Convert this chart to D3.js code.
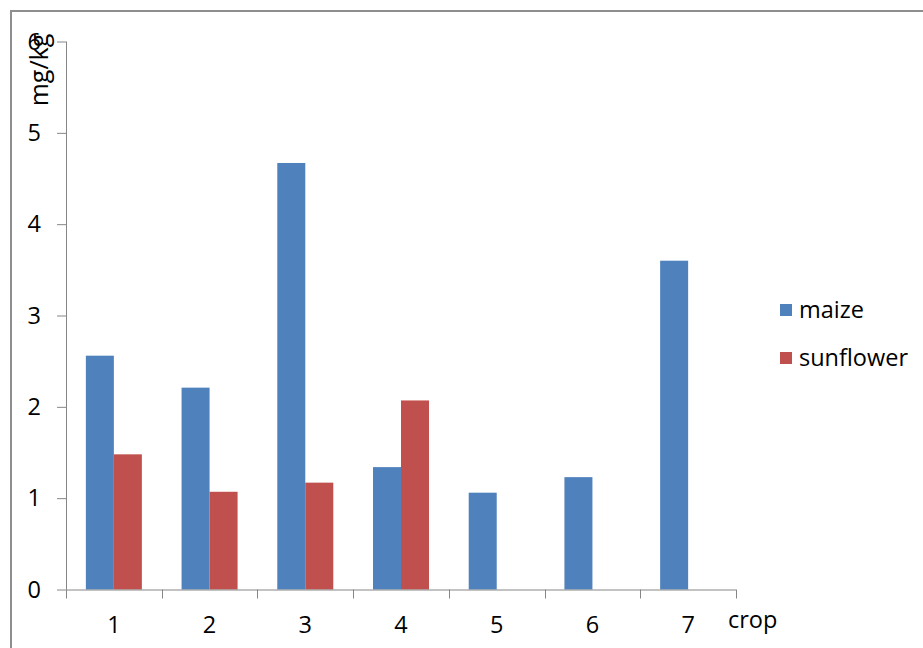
<!DOCTYPE html>
<html>
<head>
<meta charset="utf-8">
<script src="https://cdn.jsdelivr.net/npm/d3@7"></script>
<style>
  html, body { margin: 0; padding: 0; background: #fff; }
  svg { display: block; }
  text { font-family: "Open Sans", sans-serif; fill: #000; }
</style>
</head>
<body>
<svg id="chart" width="923" height="648"></svg>
<script>
const categories = ["1", "2", "3", "4", "5", "6", "7"];
const seriesNames = ["maize", "sunflower"];
const maize = [2.56, 2.21, 4.67, 1.34, 1.06, 1.23, 3.60];
const sunflower = [1.48, 1.07, 1.17, 2.07, null, null, null];
const yTicks = [0, 1, 2, 3, 4, 5, 6];
const colors = ["#4F81BD", "#C0504D"];

const svg = d3.select("#chart");
const W = 923, H = 648;
const pLeft = 66, pRight = 736, pTop = 41.5, pBottom = 589.5;
const fs = 23.5;

// frame
svg.append("rect").attr("x", 0).attr("y", 0).attr("width", W).attr("height", H).attr("fill", "#fff");
svg.append("path")
  .attr("d", `M11,${H + 5} L11,11 L${W + 5},11`)
  .attr("fill", "none").attr("stroke", "#8e8e8e").attr("stroke-width", 2);

const x = d3.scaleBand().domain(categories).range([pLeft, pRight]).paddingInner(0).paddingOuter(0);
const x1 = d3.scaleBand().domain(seriesNames).range([0, x.bandwidth()]).paddingInner(0).paddingOuter(0.709);
const y = d3.scaleLinear().domain([0, 6]).range([pBottom, pTop]);

const data = seriesNames.map((s, i) => ({ name: s, values: i === 0 ? maize : sunflower }));

// bars
const g = svg.append("g");
data.forEach((s, si) => {
  g.selectAll(null)
    .data(categories.map((c, ci) => ({ c, v: s.values[ci] })).filter(d => d.v != null))
    .enter().append("rect")
    .attr("x", d => x(d.c) + x1(s.name))
    .attr("width", x1.bandwidth())
    .attr("y", d => y(d.v))
    .attr("height", d => y(0) - y(d.v))
    .attr("fill", colors[si]);
});

// y axis
const yAxis = d3.axisLeft(y).tickValues(yTicks).tickFormat(d3.format("d")).tickSize(9).tickPadding(16);
const ya = svg.append("g").attr("transform", `translate(${pLeft},0)`).call(yAxis);
ya.select(".domain").attr("stroke", "#868686").attr("d", `M0.5,${pTop}V${pBottom}`);
ya.selectAll(".tick line").attr("stroke", "#868686");
ya.selectAll(".tick text").attr("font-size", fs).attr("font-family", "Open Sans, sans-serif").attr("fill", "#000");

// x axis: ticks at band boundaries
const xa = svg.append("g").attr("transform", `translate(0,${pBottom})`);
xa.append("line").attr("x1", pLeft).attr("x2", pRight).attr("y1", 0.5).attr("y2", 0.5).attr("stroke", "#868686");
const bounds = categories.map(c => x(c)).concat([x.range()[1]]);
xa.selectAll(".bt").data(bounds).enter().append("line")
  .attr("x1", d => Math.round(d) + 0.5).attr("x2", d => Math.round(d) + 0.5)
  .attr("y1", 0).attr("y2", 9).attr("stroke", "#868686");
xa.selectAll(".lbl").data(categories).enter().append("text")
  .attr("x", d => x(d) + x.bandwidth() / 2)
  .attr("y", 43)
  .attr("text-anchor", "middle")
  .attr("font-size", fs)
  .text(d => d);

// axis titles
svg.append("text").attr("x", 728).attr("y", 628).attr("font-size", fs).text("crop");
svg.append("text")
  .attr("transform", "translate(48,70) rotate(-90)")
  .attr("text-anchor", "middle")
  .attr("font-size", 25)
  .text("mg/kg");

// legend
const leg = svg.append("g");
data.forEach((s, i) => {
  const ly = 310 + i * 48;
  leg.append("rect").attr("x", 780).attr("y", ly - 6).attr("width", 12).attr("height", 12).attr("fill", colors[i]);
  leg.append("text").attr("x", 799).attr("y", ly).attr("dy", "0.35em").attr("font-size", fs).text(s.name);
});
</script>
</body>
</html>
